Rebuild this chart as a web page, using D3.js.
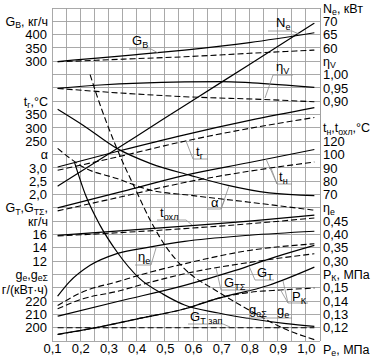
<!DOCTYPE html>
<html>
<head>
<meta charset="utf-8">
<script src="https://cdn.jsdelivr.net/npm/d3@7"></script>
<style>
body { margin: 0; background: #fff; }
svg { display: block; font-family: "Liberation Sans", Arial, sans-serif; }
</style>
</head>
<body>
<svg id="chart" width="371" height="361"></svg>
<script>
// x axis
var peTicks = [0.1, 0.2, 0.3, 0.4, 0.5, 0.6, 0.7, 0.8, 0.9, 1.0];

// tick labels of the stacked scales
var gbTicks = [300, 350, 400],
    tgTicks = [250, 300, 350],
    alphaTicks = [2.0, 2.5, 3.0],
    gtTicks = [12, 14, 16],
    geTicks = [200, 210, 220],
    neTicks = [60, 65, 70],
    etaVTicks = [0.90, 0.95, 1.00],
    tnTicks = [70, 80, 90, 100, 120],
    etaETicks = [0.30, 0.35, 0.40, 0.45],
    pkTicks = [0.12, 0.13, 0.14, 0.15];

// series: [Pe, value]; solid = diesel, dashed = gas-diesel
var gbSolid = [[0.12, 299], [0.27, 313], [0.40, 325], [0.57, 342], [0.80, 370], [1.03, 407]];
var gbDash = [[0.12, 298], [0.40, 310], [0.57, 317], [0.80, 330], [1.03, 342]];
var neSolid = [[0.12, 8.1], [0.40, 26.9], [0.60, 40.4], [0.80, 53.8], [1.03, 69.3]];
var etaVSolid = [[0.12, 0.948], [0.27, 0.961], [0.57, 0.973], [0.70, 0.974], [0.81, 0.969], [1.03, 0.952]];
var etaVDash = [[0.12, 0.948], [0.34, 0.931], [0.57, 0.917], [0.84, 0.907], [1.03, 0.898]];
var tgSolid = [[0.12, 153], [0.34, 214], [0.57, 274], [0.80, 328], [1.03, 376]];
var tgDash = [[0.12, 141], [0.34, 193], [0.57, 250], [0.80, 298], [1.03, 339]];
var alphaSolid = [[0.12, 5.2], [0.21, 4.6], [0.33, 3.73], [0.45, 3.16], [0.59, 2.72], [0.72, 2.35], [0.87, 2.06], [1.03, 1.96]];
var alphaDash = [[0.12, 3.73], [0.21, 3.03], [0.33, 2.60], [0.45, 2.16], [0.59, 1.97], [0.80, 1.71], [1.03, 1.41]];
var tnSolid = [[0.12, 60], [0.35, 72.3], [0.57, 84.4], [0.80, 94], [1.03, 107.5]];
var tnDash = [[0.12, 57.7], [0.35, 68.5], [0.57, 79], [0.80, 87.5], [1.03, 94.4]];
var tcSolid = [[0.12, 39.3], [0.57, 46.3], [0.80, 50], [1.03, 54.5]];
var tcDash = [[0.12, 38.8], [0.57, 44.4], [0.80, 48], [1.03, 52.4]];
var etaESolid = [[0.12, 0.168], [0.16, 0.22], [0.235, 0.284], [0.33, 0.328], [0.45, 0.353], [0.57, 0.374], [0.80, 0.397], [1.03, 0.412]];
var etaEDash = [[0.12, 0.133], [0.21, 0.185], [0.33, 0.222], [0.45, 0.259], [0.57, 0.290], [0.80, 0.340], [1.03, 0.365]];
var gtSolid = [[0.12, 3.73], [0.34, 6.0], [0.57, 8.35], [0.75, 10.6], [0.89, 12.6], [1.03, 14.36]];
var gtSumDash = [[0.12, 4.84], [0.21, 6.34], [0.33, 7.44], [0.45, 8.84], [0.57, 10.1], [0.80, 11.8], [1.03, 13.1]];
var gtPilotDash = [[0.12, 2.0], [1.03, 2.0]];
var geSolid = [[0.18, 324], [0.22, 299], [0.27, 277], [0.33, 257], [0.41, 237], [0.495, 225], [0.57, 217], [0.69, 211], [0.81, 206.5], [0.93, 203], [1.03, 201]];
var geSumDash = [[0.235, 390], [0.258, 375], [0.33, 334.5], [0.40, 302], [0.45, 280], [0.50, 262], [0.571, 244], [0.688, 227], [0.809, 212], [0.926, 199], [1.03, 191]];
var pkSolid = [[0.12, 0.1149], [0.246, 0.1196], [0.41, 0.127], [0.571, 0.1342], [0.688, 0.142], [0.866, 0.1517], [1.03, 0.1655]];
var pkDash = [[0.12, 0.1149], [0.246, 0.1196], [0.41, 0.127], [0.571, 0.1342], [0.688, 0.142], [0.80, 0.1465], [0.91, 0.1483], [1.03, 0.1497]];

function draw_chart() {
    var svg = d3.select("#chart"),
        margins = {"left": 52, "right": 51, "top": 8, "bottom": 20},
        width = 371, height = 361,
        nRows = 25,
        rowH = (height - margins.top - margins.bottom) / nRows,
        row = k => margins.top + k * rowH,
        grid = "#a0a0a0",
        fs = 12.5;

    var ru = d3.formatLocale({"decimal": ",", "thousands": " ", "grouping": [3], "currency": ["", ""]});

    var x = d3.scaleLinear().domain([0.1, 1.05]).range([margins.left, width - margins.right]);
    var lin = (dom, rows) => d3.scaleLinear().domain(dom).range(rows.map(row));

    var sc = {
        gb: lin([300, 400], [4, 2]),
        ne: lin([60, 70], [3, 1]),
        etaV: lin([0.90, 1.00], [7, 5]),
        tg: lin([250, 350], [10, 8]),
        alpha: lin([2.0, 3.0], [14, 12]),
        tn: lin([70, 100, 120], [14, 11, 10]),
        gt: lin([12, 16], [19, 17]),
        etaE: lin([0.30, 0.45], [19, 16]),
        ge: lin([200, 220], [24, 22]),
        pk: lin([0.12, 0.15], [24, 21])
    };

    // grid
    var g = svg.append("g").attr("stroke", grid).attr("stroke-width", 0.9).attr("shape-rendering", "crispEdges");
    g.selectAll(".h").data(d3.range(nRows + 1)).enter().append("line")
        .attr("x1", x(0.1)).attr("x2", x(1.05)).attr("y1", row).attr("y2", row);
    g.selectAll(".v").data(d3.range(0, 20)).enter().append("line")
        .attr("x1", d => x(0.1 + d * 0.05)).attr("x2", d => x(0.1 + d * 0.05))
        .attr("y1", row(0)).attr("y2", row(nRows));
    g.append("line").attr("x1", x(1.05)).attr("x2", x(1.05)).attr("y1", row(0)).attr("y2", row(nRows));

    // axes
    function styleAxis(a) {
        a.select(".domain").remove();
        a.attr("font-size", fs + 0.5).attr("font-family", null);
        a.selectAll("text").attr("fill", "#000");
    }
    var bottom = svg.append("g").attr("transform", "translate(0," + row(nRows) + ")")
        .call(d3.axisBottom(x).tickValues(peTicks).tickSize(0).tickPadding(3).tickFormat(ru.format(".1f")));
    styleAxis(bottom);

    var leftAxes = [[sc.gb, gbTicks, "d"], [sc.tg, tgTicks, "d"], [sc.alpha, alphaTicks, ".1f"],
                    [sc.gt, gtTicks, "d"], [sc.ge, geTicks, "d"]];
    leftAxes.forEach(a => {
        styleAxis(svg.append("g").attr("transform", "translate(" + margins.left + ",0)")
            .call(d3.axisLeft(a[0]).tickValues(a[1]).tickSize(0).tickPadding(5).tickFormat(ru.format(a[2]))));
    });
    var rightAxes = [[sc.ne, neTicks, "d"], [sc.etaV, etaVTicks, ".2f"], [sc.tn, tnTicks, "d"],
                     [sc.etaE, etaETicks, ".2f"], [sc.pk, pkTicks, ".2f"]];
    rightAxes.forEach(a => {
        styleAxis(svg.append("g").attr("transform", "translate(" + x(1.05) + ",0)")
            .call(d3.axisRight(a[0]).tickValues(a[1]).tickSize(0).tickPadding(3).tickFormat(ru.format(a[2]))));
    });

    // text with subscripts: parts = [[text, isSub], ...]
    function label(px, py, parts, anchor, size) {
        size = size || fs;
        var t = svg.append("text").attr("x", px).attr("y", py).attr("font-size", size)
            .attr("text-anchor", anchor || "start").attr("fill", "#000");
        var sub = false;
        parts.forEach(p => {
            var s = t.append("tspan").text(p[0]);
            if (p[1] && !sub) { s.attr("font-size", size * 0.7).attr("dy", 2.5); sub = true; }
            else if (!p[1] && sub) { s.attr("dy", -2.5); sub = false; }
            else if (p[1]) { s.attr("font-size", size * 0.7); }
        });
        return t;
    }
    var yl = k => row(k) + 4.5;

    // left titles
    label(48, yl(1), [["G"], ["В", 1], [", кг/ч"]], "end");
    label(48, yl(7), [["t"], ["г", 1], [",°C"]], "end");
    label(48, yl(11), [["α"]], "end");
    label(48, yl(15), [["G"], ["Т", 1], [",G"], ["ТΣ", 1], [","]], "end");
    label(48, yl(16), [["кг/ч"]], "end");
    label(48, yl(20), [["g"], ["e", 1], [",g"], ["eΣ", 1]], "end");
    label(48, yl(21) + 2, [["г/(кВт·ч)"]], "end");

    // right titles
    var rx = x(1.05) + 3;
    label(rx, yl(0), [["N"], ["e", 1], [", кВт"]]);
    label(rx, yl(4), [["η"], ["V", 1]]);
    label(rx, yl(9), [["t"], ["н", 1], [",t"], ["охл", 1], [",°C"]]);
    label(rx, yl(15), [["η"], ["e", 1]]);
    label(rx, yl(20), [["P"], ["К", 1], [", МПа"]]);
    label(rx, row(nRows) + 12.5, [["P"], ["e", 1], [", МПа"]]);

    // curves
    var series = [
        [gbSolid, sc.gb, false], [gbDash, sc.gb, true],
        [neSolid, sc.ne, false],
        [etaVSolid, sc.etaV, false], [etaVDash, sc.etaV, true],
        [tgSolid, sc.tg, false], [tgDash, sc.tg, true],
        [alphaSolid, sc.alpha, false], [alphaDash, sc.alpha, true],
        [tnSolid, sc.tn, false], [tnDash, sc.tn, true],
        [tcSolid, sc.tn, false], [tcDash, sc.tn, true],
        [etaESolid, sc.etaE, false], [etaEDash, sc.etaE, true],
        [gtSolid, sc.gt, false], [gtSumDash, sc.gt, true], [gtPilotDash, sc.gt, true],
        [geSolid, sc.ge, false], [geSumDash, sc.ge, true],
        [pkSolid, sc.pk, false], [pkDash, sc.pk, true]
    ];
    var curves = svg.append("g").attr("fill", "none").attr("stroke", "#000");
    series.forEach(s => {
        var line = d3.line().x(d => x(d[0])).y(d => s[1](d[1])).curve(d3.curveMonotoneX);
        curves.append("path").attr("d", line(s[0]))
            .attr("stroke-width", s[2] ? 1.1 : 1.2)
            .attr("stroke-dasharray", s[2] ? "6,3" : null);
    });

    // callouts
    var callouts = [
        {t: [["G"], ["В", 1]], at: [132, 45], path: [[[129, 49], [151, 49], [158, 53]]]},
        {t: [["N"], ["e", 1]], at: [276, 27], path: [[[268, 31], [292, 31], [299, 34]]]},
        {t: [["η"], ["V", 1]], at: [276, 71], path: [[[293, 75], [273, 75], [265, 98]]]},
        {t: [["t"], ["г", 1]], at: [196, 156], path: [[[186, 141], [193, 159], [208, 159]]]},
        {t: [["t"], ["н", 1]], at: [279, 181], path: [[[266, 159], [277, 184], [292, 184]], [[271, 168], [277, 184]]]},
        {t: [["α"]], at: [211, 207], path: [[[229, 186], [221, 209], [207, 209]], [[225, 199], [221, 209]]]},
        {t: [["t"], ["охл", 1]], at: [160, 217], path: [[[157, 220], [186, 220], [192, 225]]]},
        {t: [["η"], ["e", 1]], at: [138, 261], path: [[[135, 265], [151, 265], [156, 248]]]},
        {t: [["G"], ["Т", 1]], at: [257, 277], path: [[[249, 266], [255, 280], [274, 280]]]},
        {t: [["G"], ["ТΣ", 1]], at: [224, 287], path: [[[216, 268], [221, 290], [250, 290]]]},
        {t: [["P"], ["К", 1]], at: [292, 301], path: [[[280, 289], [288, 303], [308, 303]], [[283, 281], [288, 303]]]},
        {t: [["g"], ["eΣ", 1]], at: [249, 314], path: [[[247, 318], [292, 318]]]},
        {t: [["g"], ["e", 1]], at: [277, 315], path: []},
        {t: [["G"], ["Т зап", 1]], at: [190, 321], path: [[[188, 324], [223, 324], [230, 327]]]}
    ];
    var lead = svg.append("g").attr("fill", "none").attr("stroke", "#8a8a8a").attr("stroke-width", 0.8);
    callouts.forEach(c => {
        c.path.forEach(p => lead.append("path").attr("d", d3.line()(p)));
        label(c.at[0], c.at[1], c.t, "start", 13);
    });
}

draw_chart();
</script>
</body>
</html>
